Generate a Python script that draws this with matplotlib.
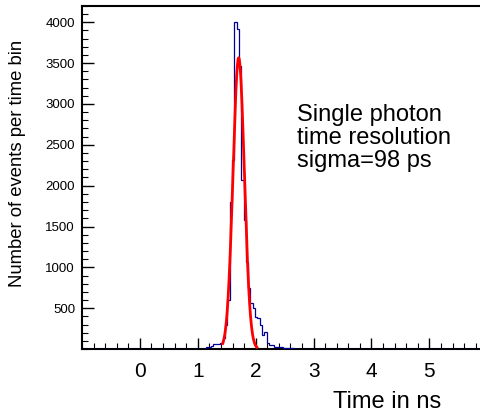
import numpy as np
import matplotlib
matplotlib.use("Agg")
import matplotlib.pyplot as plt
from matplotlib.ticker import MultipleLocator

plt.rcParams['font.family'] = ['Liberation Sans', 'DejaVu Sans']

# histogram: 40 ps bins, counts
bin_width = 0.04
first_edge = 1.15
counts = [20, 30, 40, 57, 60, 65, 70, 130, 300, 600,
          1805, 2315, 4000, 3915, 3460, 2070, 1580, 1070, 743, 560,
          498, 396, 376, 294, 171, 212, 70, 49, 45, 28,
          28, 26, 22, 16, 14, 12, 10, 8, 6, 5, 4]
x_ticks = [0, 1, 2, 3, 4, 5]
y_ticks = [500, 1000, 1500, 2000, 2500, 3000, 3500, 4000]

# gaussian fit
fit_amp = 3566
fit_mean = 1.706
fit_sigma = 0.098
fit_lo, fit_hi = 1.43, 2.02

n_left, n_right = 54, 81
full = np.concatenate([np.zeros(n_left), counts, np.zeros(n_right)])
edges = first_edge + bin_width * np.arange(-n_left, len(counts) + n_right + 1)

fig = plt.figure(figsize=(4.81, 4.19), dpi=100)
ax = fig.add_axes([82 / 481, 70 / 419, 405.3 / 481, 343 / 419])

ax.stairs(full, edges, color='#000099', lw=0.9, zorder=3)

xf = np.linspace(fit_lo, fit_hi, 300)
yf = fit_amp * np.exp(-0.5 * ((xf - fit_mean) / fit_sigma) ** 2)
ax.plot(xf, yf, color='red', lw=2.0, zorder=4)

ax.set_xlim(-1, 6)
ax.set_ylim(0, 4200)

ax.set_xticks(x_ticks)
ax.xaxis.set_minor_locator(MultipleLocator(0.2))
ax.set_yticks(y_ticks)
ax.yaxis.set_minor_locator(MultipleLocator(100))

ax.tick_params(axis='x', which='major', direction='in', length=8, width=1,
               labelsize=15, pad=9)
ax.tick_params(axis='x', which='minor', direction='in', length=4, width=0.8)
ax.tick_params(axis='y', which='major', direction='in', length=8.5, width=1,
               labelsize=9.5, pad=5)
ax.tick_params(axis='y', which='minor', direction='in', length=4.3, width=0.8)

for s in ['left', 'bottom', 'top']:
    ax.spines[s].set_linewidth(1.5)
ax.spines['right'].set_visible(False)

fig.text(441.7 / 481, 1 - 401.7 / 419, "Time in ns", ha='right', va='center',
         fontsize=17)
fig.text(18 / 481, 1 - 163 / 419, "Number of events per time bin",
         rotation=90, ha='center', va='center', fontsize=13.3)

ax.text(297 / 481, 1 - 104 / 419, "Single photon\ntime resolution\nsigma=98 ps",
        transform=fig.transFigure, ha='left', va='top', fontsize=17,
        linespacing=1.05)

fig.savefig("out.png", dpi=100)
